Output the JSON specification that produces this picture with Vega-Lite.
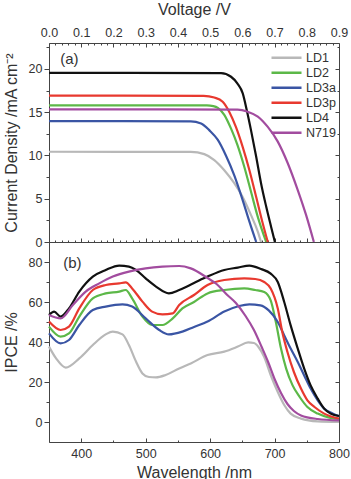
{
  "$schema": "https://vega.github.io/schema/vega-lite/v6.json",
  "padding": {"left": 2, "top": 0, "right": 2, "bottom": 2},
  "spacing": 0,
  "bounds": "flush",
  "config": {
    "view": {"stroke": "#444", "strokeWidth": 1},
    "font": "Liberation Sans",
    "axis": {"labelFont": "Liberation Sans", "labelFontSize": 12.5, "labelColor": "#333", "titleFont": "Liberation Sans", "titleFontSize": 16, "titleFontWeight": "normal", "titleColor": "#333", "tickColor": "#444", "grid": false, "domain": false, "labelFlush": false, "labelOverlap": false, "labelBound": false},
    "legend": {"labelFont": "Liberation Sans", "labelFontSize": 12.5, "labelColor": "#333"}
  },
  "resolve": {"scale": {"color": "independent"}},
  "vconcat": [
    {
      "width": 290, "height": 199,
      "resolve": {"axis": {"x": "independent", "y": "independent"}},
      "layer": [
        {
          "data": {"values": [
            {"s": "LD1", "v": 0, "j": 10.43}, {"s": "LD1", "v": 0.44, "j": 10.42}, {"s": "LD1", "v": 0.482, "j": 10.16}, {"s": "LD1", "v": 0.513, "j": 9.47}, {"s": "LD1", "v": 0.544, "j": 8.3}, {"s": "LD1", "v": 0.575, "j": 6.8}, {"s": "LD1", "v": 0.601, "j": 5.2}, {"s": "LD1", "v": 0.627, "j": 3.1}, {"s": "LD1", "v": 0.648, "j": 1.2}, {"s": "LD1", "v": 0.658, "j": 0},
            {"s": "LD2", "v": 0, "j": 15.8}, {"s": "LD2", "v": 0.49, "j": 15.78}, {"s": "LD2", "v": 0.51, "j": 15.7}, {"s": "LD2", "v": 0.524, "j": 15.5}, {"s": "LD2", "v": 0.544, "j": 14.7}, {"s": "LD2", "v": 0.565, "j": 13.1}, {"s": "LD2", "v": 0.585, "j": 11.2}, {"s": "LD2", "v": 0.606, "j": 8.7}, {"s": "LD2", "v": 0.627, "j": 5.8}, {"s": "LD2", "v": 0.648, "j": 2.9}, {"s": "LD2", "v": 0.674, "j": 0},
            {"s": "LD3a", "v": 0, "j": 13.97}, {"s": "LD3a", "v": 0.44, "j": 13.95}, {"s": "LD3a", "v": 0.472, "j": 13.7}, {"s": "LD3a", "v": 0.498, "j": 12.9}, {"s": "LD3a", "v": 0.524, "j": 11.8}, {"s": "LD3a", "v": 0.549, "j": 10.0}, {"s": "LD3a", "v": 0.575, "j": 7.7}, {"s": "LD3a", "v": 0.601, "j": 4.85}, {"s": "LD3a", "v": 0.622, "j": 2.35}, {"s": "LD3a", "v": 0.643, "j": 0},
            {"s": "LD3p", "v": 0, "j": 16.92}, {"s": "LD3p", "v": 0.48, "j": 16.9}, {"s": "LD3p", "v": 0.513, "j": 16.7}, {"s": "LD3p", "v": 0.539, "j": 16.2}, {"s": "LD3p", "v": 0.56, "j": 15.0}, {"s": "LD3p", "v": 0.58, "j": 13.3}, {"s": "LD3p", "v": 0.601, "j": 11.0}, {"s": "LD3p", "v": 0.622, "j": 8.3}, {"s": "LD3p", "v": 0.643, "j": 5.2}, {"s": "LD3p", "v": 0.663, "j": 2.2}, {"s": "LD3p", "v": 0.679, "j": 0},
            {"s": "LD4", "v": 0, "j": 19.55}, {"s": "LD4", "v": 0.534, "j": 19.52}, {"s": "LD4", "v": 0.565, "j": 19.1}, {"s": "LD4", "v": 0.585, "j": 18.3}, {"s": "LD4", "v": 0.601, "j": 17.2}, {"s": "LD4", "v": 0.614, "j": 15.2}, {"s": "LD4", "v": 0.627, "j": 12.9}, {"s": "LD4", "v": 0.643, "j": 9.85}, {"s": "LD4", "v": 0.658, "j": 6.8}, {"s": "LD4", "v": 0.674, "j": 4.1}, {"s": "LD4", "v": 0.689, "j": 1.8}, {"s": "LD4", "v": 0.701, "j": 0},
            {"s": "N719", "v": 0, "j": 15.34}, {"s": "N719", "v": 0.585, "j": 15.3}, {"s": "N719", "v": 0.617, "j": 15.05}, {"s": "N719", "v": 0.648, "j": 14.5}, {"s": "N719", "v": 0.679, "j": 13.3}, {"s": "N719", "v": 0.71, "j": 11.6}, {"s": "N719", "v": 0.741, "j": 9.1}, {"s": "N719", "v": 0.772, "j": 6.0}, {"s": "N719", "v": 0.798, "j": 3.1}, {"s": "N719", "v": 0.822, "j": 0}
          ]},
          "mark": {"type": "line", "strokeWidth": 2.2, "interpolate": "monotone"},
          "encoding": {
            "x": {"field": "v", "type": "quantitative", "scale": {"domain": [0, 0.9], "nice": false, "zero": false},
              "axis": {"orient": "top", "title": "Voltage /V",
                "values": [0,0.02,0.04,0.06,0.08,0.1,0.12,0.14,0.16,0.18,0.2,0.22,0.24,0.26,0.28,0.3,0.32,0.34,0.36,0.38,0.4,0.42,0.44,0.46,0.48,0.5,0.52,0.54,0.56,0.58,0.6,0.62,0.64,0.66,0.68,0.7,0.72,0.74,0.76,0.78,0.8,0.82,0.84,0.86,0.88,0.9],
                "labelExpr": "abs(datum.value*10-round(datum.value*10))<0.001 ? format(datum.value, '.1f') : ''",
                "tickSize": {"condition": {"test": "abs(datum.value*10-round(datum.value*10))<0.001", "value": -4}, "value": -2},
                "labelPadding": 8, "titlePadding": 7}},
            "y": {"field": "j", "type": "quantitative", "scale": {"domain": [0, 23], "nice": false},
              "axis": {"orient": "left", "title": "Current Density /mA cm⁻²",
                "values": [0,2.5,5,7.5,10,12.5,15,17.5,20,22.5],
                "labelExpr": "datum.value % 5 == 0 ? datum.label : ''",
                "tickSize": {"condition": {"test": "datum.value % 5 == 0", "value": 5}, "value": 3},
                "labelPadding": 2, "titlePadding": 9}},
            "color": {"field": "s", "type": "nominal",
              "scale": {"domain": ["LD1", "LD2", "LD3a", "LD3p", "LD4", "N719"], "range": ["#b8b8b8", "#5cb848", "#3a55a4", "#e8392f", "#111111", "#a24c9f"]},
              "legend": {"title": " ", "titleFontSize": 1, "titlePadding": 3.5, "orient": "top-right", "offset": 3, "padding": 0, "symbolType": "stroke", "symbolSize": 900, "symbolStrokeWidth": 2.5, "labelOffset": 3, "rowPadding": 0, "clipHeight": 14.3}}
          }
        },
        {
          "data": {"values": [{"x": 0.035, "y": 21.2, "t": "(a)"}]},
          "mark": {"type": "text", "align": "left", "baseline": "middle", "fontSize": 15, "font": "Liberation Sans", "color": "#333"},
          "encoding": {
            "x": {"field": "x", "type": "quantitative", "scale": {"domain": [0, 0.9], "nice": false, "zero": false},
              "axis": {"orient": "bottom", "title": null, "labels": false,
                "values": [0,0.02,0.04,0.06,0.08,0.1,0.12,0.14,0.16,0.18,0.2,0.22,0.24,0.26,0.28,0.3,0.32,0.34,0.36,0.38,0.4,0.42,0.44,0.46,0.48,0.5,0.52,0.54,0.56,0.58,0.6,0.62,0.64,0.66,0.68,0.7,0.72,0.74,0.76,0.78,0.8,0.82,0.84,0.86,0.88,0.9],
                "tickSize": {"condition": {"test": "abs(datum.value*10-round(datum.value*10))<0.001", "value": -4}, "value": -2}}},
            "y": {"field": "y", "type": "quantitative", "scale": {"domain": [0, 23], "nice": false},
              "axis": {"orient": "right", "title": null, "labels": false,
                "values": [0,2.5,5,7.5,10,12.5,15,17.5,20,22.5],
                "tickSize": {"condition": {"test": "datum.value % 5 == 0", "value": -4}, "value": -2}}},
            "text": {"field": "t"}
          }
        }
      ]
    },
    {
      "width": 290, "height": 200,
      "resolve": {"axis": {"x": "independent", "y": "independent"}},
      "layer": [
        {
          "data": {"values": [
            {"s": "LD1", "w": 350, "q": 37.7}, {"s": "LD1", "w": 361, "q": 31.8}, {"s": "LD1", "w": 376, "q": 27.2}, {"s": "LD1", "w": 397, "q": 31.8}, {"s": "LD1", "w": 418, "q": 38.5}, {"s": "LD1", "w": 438, "q": 43.8}, {"s": "LD1", "w": 449, "q": 45.2}, {"s": "LD1", "w": 464, "q": 43.8}, {"s": "LD1", "w": 474, "q": 38.5}, {"s": "LD1", "w": 485, "q": 30.2}, {"s": "LD1", "w": 495, "q": 24.3}, {"s": "LD1", "w": 505, "q": 22.5}, {"s": "LD1", "w": 516, "q": 22.3}, {"s": "LD1", "w": 531, "q": 23.5}, {"s": "LD1", "w": 552, "q": 26.8}, {"s": "LD1", "w": 570, "q": 29.3}, {"s": "LD1", "w": 596, "q": 33.5}, {"s": "LD1", "w": 622, "q": 35.2}, {"s": "LD1", "w": 643, "q": 37.7}, {"s": "LD1", "w": 659, "q": 39.8}, {"s": "LD1", "w": 668, "q": 39.5}, {"s": "LD1", "w": 675, "q": 37.5}, {"s": "LD1", "w": 684, "q": 32.5}, {"s": "LD1", "w": 694, "q": 23.5}, {"s": "LD1", "w": 705, "q": 15}, {"s": "LD1", "w": 715, "q": 8.5}, {"s": "LD1", "w": 725, "q": 4.2}, {"s": "LD1", "w": 741, "q": 1.7}, {"s": "LD1", "w": 767, "q": 0.3}, {"s": "LD1", "w": 800, "q": 0},
            {"s": "LD2", "w": 350, "q": 47.7}, {"s": "LD2", "w": 368, "q": 42.7}, {"s": "LD2", "w": 381, "q": 44.3}, {"s": "LD2", "w": 397, "q": 52.7}, {"s": "LD2", "w": 418, "q": 61.8}, {"s": "LD2", "w": 438, "q": 64.3}, {"s": "LD2", "w": 459, "q": 65.2}, {"s": "LD2", "w": 469, "q": 66}, {"s": "LD2", "w": 479, "q": 61.8}, {"s": "LD2", "w": 495, "q": 52.7}, {"s": "LD2", "w": 510, "q": 48.5}, {"s": "LD2", "w": 526, "q": 48.5}, {"s": "LD2", "w": 542, "q": 51.8}, {"s": "LD2", "w": 557, "q": 56.8}, {"s": "LD2", "w": 575, "q": 60}, {"s": "LD2", "w": 596, "q": 64.3}, {"s": "LD2", "w": 622, "q": 66}, {"s": "LD2", "w": 653, "q": 66.8}, {"s": "LD2", "w": 670, "q": 66}, {"s": "LD2", "w": 684, "q": 65}, {"s": "LD2", "w": 694, "q": 60.8}, {"s": "LD2", "w": 702, "q": 50}, {"s": "LD2", "w": 710, "q": 36.7}, {"s": "LD2", "w": 718, "q": 26.7}, {"s": "LD2", "w": 728, "q": 18.3}, {"s": "LD2", "w": 739, "q": 12.5}, {"s": "LD2", "w": 751, "q": 7.5}, {"s": "LD2", "w": 767, "q": 4.2}, {"s": "LD2", "w": 785, "q": 2.2}, {"s": "LD2", "w": 800, "q": 1.5},
            {"s": "LD3a", "w": 350, "q": 44.3}, {"s": "LD3a", "w": 368, "q": 39.3}, {"s": "LD3a", "w": 381, "q": 41}, {"s": "LD3a", "w": 397, "q": 48.5}, {"s": "LD3a", "w": 418, "q": 56}, {"s": "LD3a", "w": 438, "q": 57.7}, {"s": "LD3a", "w": 464, "q": 58.8}, {"s": "LD3a", "w": 479, "q": 57.7}, {"s": "LD3a", "w": 500, "q": 51.8}, {"s": "LD3a", "w": 521, "q": 46}, {"s": "LD3a", "w": 536, "q": 43.8}, {"s": "LD3a", "w": 557, "q": 45.2}, {"s": "LD3a", "w": 575, "q": 47.5}, {"s": "LD3a", "w": 596, "q": 50.2}, {"s": "LD3a", "w": 622, "q": 55.2}, {"s": "LD3a", "w": 645, "q": 58}, {"s": "LD3a", "w": 661, "q": 58.8}, {"s": "LD3a", "w": 678, "q": 58.3}, {"s": "LD3a", "w": 691, "q": 55.8}, {"s": "LD3a", "w": 705, "q": 50}, {"s": "LD3a", "w": 715, "q": 43.3}, {"s": "LD3a", "w": 725, "q": 36.7}, {"s": "LD3a", "w": 736, "q": 30}, {"s": "LD3a", "w": 746, "q": 23.3}, {"s": "LD3a", "w": 756, "q": 16.7}, {"s": "LD3a", "w": 767, "q": 10.8}, {"s": "LD3a", "w": 777, "q": 6.7}, {"s": "LD3a", "w": 790, "q": 4.3}, {"s": "LD3a", "w": 800, "q": 3},
            {"s": "LD3p", "w": 350, "q": 50.2}, {"s": "LD3p", "w": 368, "q": 46}, {"s": "LD3p", "w": 381, "q": 47.7}, {"s": "LD3p", "w": 397, "q": 56.8}, {"s": "LD3p", "w": 418, "q": 66}, {"s": "LD3p", "w": 438, "q": 68.5}, {"s": "LD3p", "w": 459, "q": 69.3}, {"s": "LD3p", "w": 469, "q": 69.8}, {"s": "LD3p", "w": 479, "q": 66.8}, {"s": "LD3p", "w": 495, "q": 60.2}, {"s": "LD3p", "w": 510, "q": 55.2}, {"s": "LD3p", "w": 526, "q": 53.8}, {"s": "LD3p", "w": 542, "q": 54.3}, {"s": "LD3p", "w": 552, "q": 58.5}, {"s": "LD3p", "w": 575, "q": 63.5}, {"s": "LD3p", "w": 596, "q": 68.5}, {"s": "LD3p", "w": 622, "q": 71}, {"s": "LD3p", "w": 653, "q": 71.8}, {"s": "LD3p", "w": 670, "q": 71.5}, {"s": "LD3p", "w": 684, "q": 70}, {"s": "LD3p", "w": 694, "q": 66.7}, {"s": "LD3p", "w": 705, "q": 56.7}, {"s": "LD3p", "w": 712, "q": 45}, {"s": "LD3p", "w": 720, "q": 35}, {"s": "LD3p", "w": 730, "q": 25}, {"s": "LD3p", "w": 741, "q": 16.7}, {"s": "LD3p", "w": 751, "q": 10.8}, {"s": "LD3p", "w": 762, "q": 7.5}, {"s": "LD3p", "w": 777, "q": 4.2}, {"s": "LD3p", "w": 800, "q": 1.7},
            {"s": "LD4", "w": 350, "q": 53.5}, {"s": "LD4", "w": 358, "q": 55.2}, {"s": "LD4", "w": 368, "q": 52.7}, {"s": "LD4", "w": 381, "q": 56.8}, {"s": "LD4", "w": 397, "q": 65.2}, {"s": "LD4", "w": 418, "q": 72.7}, {"s": "LD4", "w": 438, "q": 76}, {"s": "LD4", "w": 459, "q": 78.2}, {"s": "LD4", "w": 474, "q": 77.7}, {"s": "LD4", "w": 485, "q": 76}, {"s": "LD4", "w": 500, "q": 71.8}, {"s": "LD4", "w": 516, "q": 67.7}, {"s": "LD4", "w": 536, "q": 64.3}, {"s": "LD4", "w": 552, "q": 66}, {"s": "LD4", "w": 575, "q": 69.5}, {"s": "LD4", "w": 596, "q": 72.7}, {"s": "LD4", "w": 622, "q": 76}, {"s": "LD4", "w": 643, "q": 77.2}, {"s": "LD4", "w": 661, "q": 78.2}, {"s": "LD4", "w": 679, "q": 76.5}, {"s": "LD4", "w": 694, "q": 74.2}, {"s": "LD4", "w": 705, "q": 70}, {"s": "LD4", "w": 715, "q": 60}, {"s": "LD4", "w": 725, "q": 48.3}, {"s": "LD4", "w": 736, "q": 36.7}, {"s": "LD4", "w": 746, "q": 26.7}, {"s": "LD4", "w": 756, "q": 18.3}, {"s": "LD4", "w": 767, "q": 11.7}, {"s": "LD4", "w": 777, "q": 6.7}, {"s": "LD4", "w": 787, "q": 4.2}, {"s": "LD4", "w": 800, "q": 3},
            {"s": "N719", "w": 350, "q": 53.5}, {"s": "N719", "w": 368, "q": 51.8}, {"s": "N719", "w": 387, "q": 58.5}, {"s": "N719", "w": 407, "q": 65.2}, {"s": "N719", "w": 428, "q": 69.3}, {"s": "N719", "w": 449, "q": 72.7}, {"s": "N719", "w": 474, "q": 75.2}, {"s": "N719", "w": 500, "q": 76.8}, {"s": "N719", "w": 526, "q": 77.7}, {"s": "N719", "w": 552, "q": 78}, {"s": "N719", "w": 570, "q": 76.8}, {"s": "N719", "w": 596, "q": 72}, {"s": "N719", "w": 610, "q": 69}, {"s": "N719", "w": 625, "q": 64}, {"s": "N719", "w": 640, "q": 59.5}, {"s": "N719", "w": 655, "q": 53}, {"s": "N719", "w": 668, "q": 46}, {"s": "N719", "w": 680, "q": 37.5}, {"s": "N719", "w": 690, "q": 30}, {"s": "N719", "w": 700, "q": 21.5}, {"s": "N719", "w": 710, "q": 14.5}, {"s": "N719", "w": 720, "q": 9}, {"s": "N719", "w": 730, "q": 5.5}, {"s": "N719", "w": 741, "q": 3.3}, {"s": "N719", "w": 767, "q": 1.5}, {"s": "N719", "w": 800, "q": 0.8}
          ]},
          "mark": {"type": "line", "strokeWidth": 2.2, "interpolate": "monotone"},
          "encoding": {
            "x": {"field": "w", "type": "quantitative", "scale": {"domain": [350, 800], "nice": false, "zero": false},
              "axis": {"orient": "bottom", "title": "Wavelength /nm",
                "values": [350,400,450,500,550,600,650,700,750,800],
                "labelExpr": "datum.value % 100 == 0 ? datum.label : ''",
                "tickSize": {"condition": {"test": "datum.value % 100 == 0", "value": -4}, "value": -2},
                "labelPadding": 9.5, "titlePadding": 2}},
            "y": {"field": "q", "type": "quantitative", "scale": {"domain": [-10, 90], "nice": false, "zero": false},
              "axis": {"orient": "left", "title": "IPCE /%",
                "values": [0,10,20,30,40,50,60,70,80],
                "labelExpr": "datum.value % 20 == 0 ? datum.label : ''",
                "tickSize": {"condition": {"test": "datum.value % 20 == 0", "value": 5}, "value": 3},
                "labelPadding": 2, "titlePadding": 9}},
            "color": {"field": "s", "type": "nominal",
              "scale": {"domain": ["LD1", "LD2", "LD3a", "LD3p", "LD4", "N719"], "range": ["#b8b8b8", "#5cb848", "#3a55a4", "#e8392f", "#111111", "#a24c9f"]},
              "legend": null}
          }
        },
        {
          "data": {"values": [{"x": 372, "y": 79.5, "t": "(b)"}]},
          "mark": {"type": "text", "align": "left", "baseline": "middle", "fontSize": 15, "font": "Liberation Sans", "color": "#333"},
          "encoding": {
            "x": {"field": "x", "type": "quantitative", "scale": {"domain": [350, 800], "nice": false, "zero": false}, "axis": null},
            "y": {"field": "y", "type": "quantitative", "scale": {"domain": [-10, 90], "nice": false, "zero": false},
              "axis": {"orient": "right", "title": null, "labels": false,
                "values": [0,10,20,30,40,50,60,70,80],
                "tickSize": {"condition": {"test": "datum.value % 20 == 0", "value": -4}, "value": -2}}},
            "text": {"field": "t"}
          }
        }
      ]
    }
  ]
}
